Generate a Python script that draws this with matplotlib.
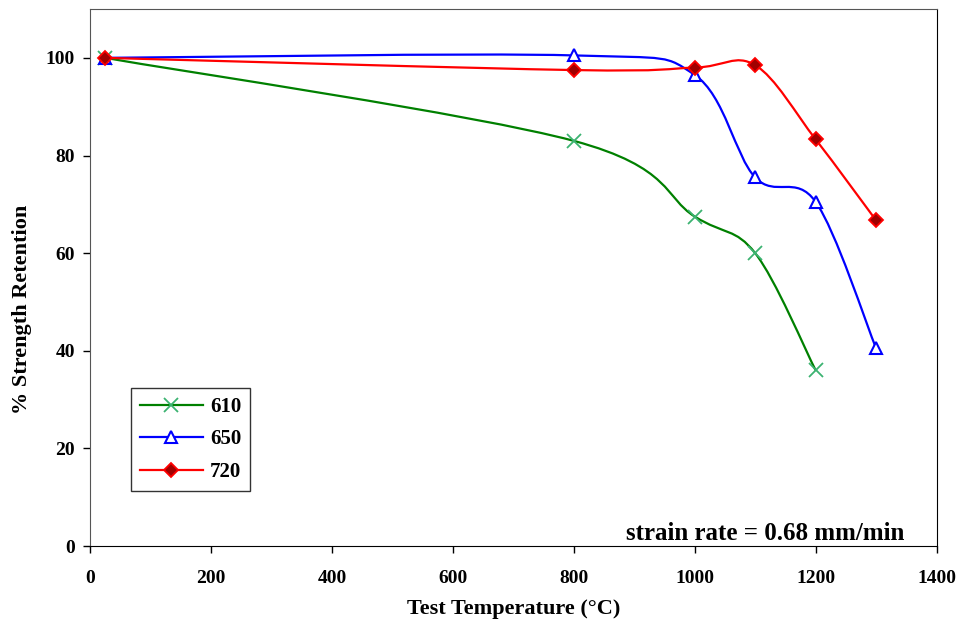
import matplotlib
matplotlib.use('Agg')
import matplotlib.pyplot as plt
import numpy as np
from matplotlib.path import Path
from matplotlib.patches import PathPatch
from matplotlib.lines import Line2D

plt.rcParams['font.family'] = 'Liberation Serif'
plt.rcParams['font.weight'] = 'bold'

# data
temp_610 = [25, 800, 1000, 1100, 1200]
ret_610 = [100, 83, 67.5, 60, 36]
temp_650 = [25, 800, 1000, 1100, 1200, 1300]
ret_650 = [100, 100.5, 96.5, 75.5, 70.5, 40.5]
temp_720 = [25, 800, 1000, 1100, 1200, 1300]
ret_720 = [100, 97.5, 98, 98.5, 83.3, 66.7]


def smooth_path(xs, ys):
    # excel-like smoothed line: catmull-rom as cubic bezier segments
    p = np.column_stack([xs, ys]).astype(float)
    n = len(p)
    verts = [p[0]]
    codes = [Path.MOVETO]
    for i in range(n - 1):
        p0 = p[i - 1] if i > 0 else p[i]
        p1 = p[i]
        p2 = p[i + 1]
        p3 = p[i + 2] if i + 2 < n else p[i + 1]
        c1 = p1 + (p2 - p0) / 6.0
        c2 = p2 - (p3 - p1) / 6.0
        verts += [c1, c2, p2]
        codes += [Path.CURVE4] * 3
    return Path(verts, codes)


fig = plt.figure(figsize=(9.62, 6.27), dpi=100)
ax = fig.add_axes([0.0936, 0.129, 0.880, 0.8566])

series = [
    (temp_610, ret_610, '#008000', dict(marker='x', color='#008000', markeredgecolor='#3cb371', markersize=10, markeredgewidth=1.3), '610'),
    (temp_650, ret_650, '#0000ff', dict(marker='^', color='#0000ff', markerfacecolor='white', markeredgecolor='#0000ff', markersize=9, markeredgewidth=1.5), '650'),
    (temp_720, ret_720, '#ff0000', dict(marker='D', color='#ff0000', markerfacecolor='#a00000', markeredgecolor='#ff0000', markersize=7, markeredgewidth=1.3), '720'),
]

handles = []
for xs, ys, c, mk, lab in series:
    ax.add_patch(PathPatch(smooth_path(xs, ys), facecolor='none', edgecolor=c, lw=1.6, zorder=2))
    ax.plot(xs, ys, linestyle='none', zorder=3, **mk)
    handles.append(Line2D([0], [0], lw=1.6, label=lab, **mk))

ax.set_xlim(0, 1400)
ax.set_ylim(0, 110)
ax.set_xticks(np.arange(0, 1401, 200))
ax.set_yticks(np.arange(0, 101, 20))
ax.tick_params(direction='out', length=5, labelsize=14, colors='black', width=1, pad=6)
ax.tick_params(axis='x', pad=12)
for lab in ax.get_xticklabels() + ax.get_yticklabels():
    lab.set_fontweight('bold')
for s in ['left', 'top']:
    ax.spines[s].set_color('#555555')
for s in ['right', 'bottom']:
    ax.spines[s].set_color('black')

ax.set_xlabel('Test Temperature (°C)', fontsize=16, fontweight='bold', labelpad=9)
ax.set_ylabel('% Strength Retention', fontsize=16, fontweight='bold')
ax.yaxis.set_label_coords(-0.068, 0.44)

ax.text(0.962, 0.003, 'strain rate = 0.68 mm/min', transform=ax.transAxes,
        ha='right', va='bottom', fontsize=18, fontweight='bold')

leg = ax.legend(handles=handles, loc='lower left', bbox_to_anchor=(0.048, 0.102),
                frameon=True, fancybox=False, handlelength=3.0, handletextpad=0.35,
                borderpad=0.45, labelspacing=0.6, borderaxespad=0,
                prop={'weight': 'bold', 'size': 15})
leg.get_frame().set_edgecolor('black')
leg.get_frame().set_linewidth(1)

fig.savefig('out.png', dpi=100)
